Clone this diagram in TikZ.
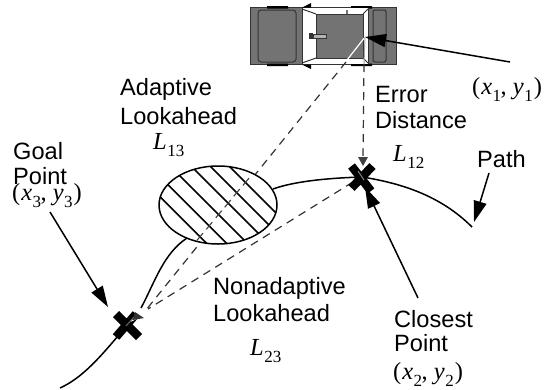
\documentclass[tikz,border=0pt]{standalone}
\usepackage{fontspec}
\setmainfont{Liberation Sans}
\newfontfamily\serifit{Liberation Serif}
\usetikzlibrary{arrows.meta}
\tikzset{
  x=1pt,y=-1pt,
  lab/.style={font=\fontsize{23.6}{26}\selectfont,anchor=base west,inner sep=0pt},
  mathlab/.style={font=\fontsize{24.5}{26}\serifit,anchor=base west,inner sep=0pt},
  pathline/.style={line width=1.5pt,black},
  dashline/.style={line width=1.2pt,dash pattern=on 8pt off 6pt,black!80},
  pointer/.style={line width=1.5pt,-{Triangle[length=21pt,width=13pt]}},
  crossbar/.style={line width=8.5pt,black},
  hatch/.style={line width=1.6pt,black},
  body/.style={draw=black!80,line width=1pt,fill=black!55},
}
\newcommand{\Sb}[1]{\kern.5pt\raisebox{-7pt}{\fontsize{17}{17}\selectfont #1}}
\newcommand{\Pair}[1]{(\kern1pt\textit{x}\Sb{#1}\kern-.5pt,\kern6pt\textit{y}\Sb{#1}\kern1pt)}
\begin{document}
\begin{tikzpicture}
\useasboundingbox (0,0) rectangle (551,389);
% coordinates
\coordinate (rear) at (365,37);
\coordinate (goal) at (127,325);
\coordinate (closest) at (362,177);
\coordinate (goalTip) at (134,317);
\coordinate (closeArr) at (353,182);
\coordinate (goalDash) at (146,310);
\coordinate (vertTip) at (363,158);
% car
\draw[body] (250,7.5) rectangle (396,64.5);
\fill[black] (267,6) rectangle (288,8.5) (267,63.5) rectangle (288,66) (351,6) rectangle (372,8.5) (351,63.5) rectangle (372,66);
\fill[black] (302,7.5) -- (311,3) -- (311,7.5) -- cycle (302,64.5) -- (311,69) -- (311,64.5) -- cycle;
\draw[body,rounded corners=3pt] (258,10) rectangle (296,62);
\fill[white] (302,8) rectangle (368,64);
\draw[black!80,line width=1pt] (302,8) -- (302,64) (368,8) -- (368,64);
\draw[body] (316,14) rectangle (363,58);
\draw[black!80,line width=1pt] (302,9) -- (316,14) (302,63) -- (316,58) (368,9) -- (363,14) (368,63) -- (363,58);
\draw[body,rounded corners=2pt] (373,10) rectangle (386,62);
\fill[black!80] (309,33) rectangle (313,39);
\draw[black!80,fill=black!30,line width=.8pt] (313,34) rectangle (326,38);
\fill[black!55] (346,9.5) rectangle (348,14);
% dashed lines
\draw[white,line width=1.2pt] (rear) -- (347,60);
\draw[black!35,line width=1pt] (rear) -- (364,64);
\draw[dashline] (346,62) -- (goalDash);
\draw[dashline] (364,64) -- (vertTip);
\draw[dashline] (closeArr) -- (148,309);
\fill[black!75] (363,166) -- (358,157) -- (368,157) -- cycle;
% hatched ellipse
\fill[white] (218,205) ellipse [x radius=59,y radius=39];
\begin{scope}
\clip (218,205) ellipse [x radius=59,y radius=39];
\foreach \d in {-36.7,-16.7,4,25,44,63}{
  \draw[hatch] (150,150-\d) -- (290,290-\d);
}
\end{scope}
\draw[line width=1.5pt] (218,205) ellipse [x radius=59,y radius=39];
\foreach \cx/\cy in {200/236.7,209.3/225.7,218.7/214.3,227.7/203.7,236.7/192.7,246/181.7}{
  \draw[black!75,line width=1.1pt] (\cx-3,\cy+3.6) -- (\cx+3,\cy-3.6);
}
% path
\draw[pathline] (60,388) .. controls (82,378) and (100,358) .. (goal);
\draw[pathline] (141,308) .. controls (155,282) and (163,254) .. (187,238);
\draw[pathline] (273,189) .. controls (295,181) and (330,178) .. (closest);
\draw[pathline] (closest) .. controls (400,183) and (440,195) .. (472,227);
% crosses
\draw[crossbar] (116,314) -- (139,337) (136,314) -- (116,337);
\draw[crossbar] (351.5,166) -- (371,191) (372.5,166) -- (351.5,188);
% details on the goal cross
\draw[white,line width=1.2pt] (131,321) -- (142,316);
\draw[black!60,line width=1.1pt] (126,326) -- (goalTip);
\fill[black!80] (135,312) -- (144,318) -- (133,320) -- cycle;
\draw[black!50,line width=1pt] (358,171) -- (364,180);
% pointers
\draw[pointer] (510,62) -- (rear);
\draw[pointer] (50,212) -- (108,307);
\draw[pointer] (418,298) -- (365,187);
\draw[pointer] (489,173) -- (474,222);
% texts
\node[lab] (ad) at (120,95) {Adaptive};
\node[lab] (la) at (120,124) {Lookahead};
\node[mathlab] (l13) at (153,149) {\textit{L}\Sb{13}};
\node[lab] (ed) at (375,102) {Error};
\node[lab] (di) at (375,128) {Distance};
\node[mathlab] (l12) at (393,161) {\textit{L}\Sb{12}};
\node[lab] (pa) at (477,167) {Path};
\node[lab] (go) at (13,159) {Goal};
\node[lab] (pt) at (13,184) {Point};
\node[mathlab] (c3) at (12,200) {\Pair{3}};
\node[mathlab] (c1) at (472,94) {\Pair{1}};
\node[lab] (no) at (213,294) {Nonadaptive};
\node[lab] (lb) at (213,321) {Lookahead};
\node[mathlab] (l23) at (250,355) {\textit{L}\Sb{23}};
\node[lab] (cl) at (394,327) {Closest};
\node[lab] (cp) at (394,351) {Point};
\node[mathlab] (c2) at (393,379) {\Pair{2}};
\end{tikzpicture}
\end{document}
